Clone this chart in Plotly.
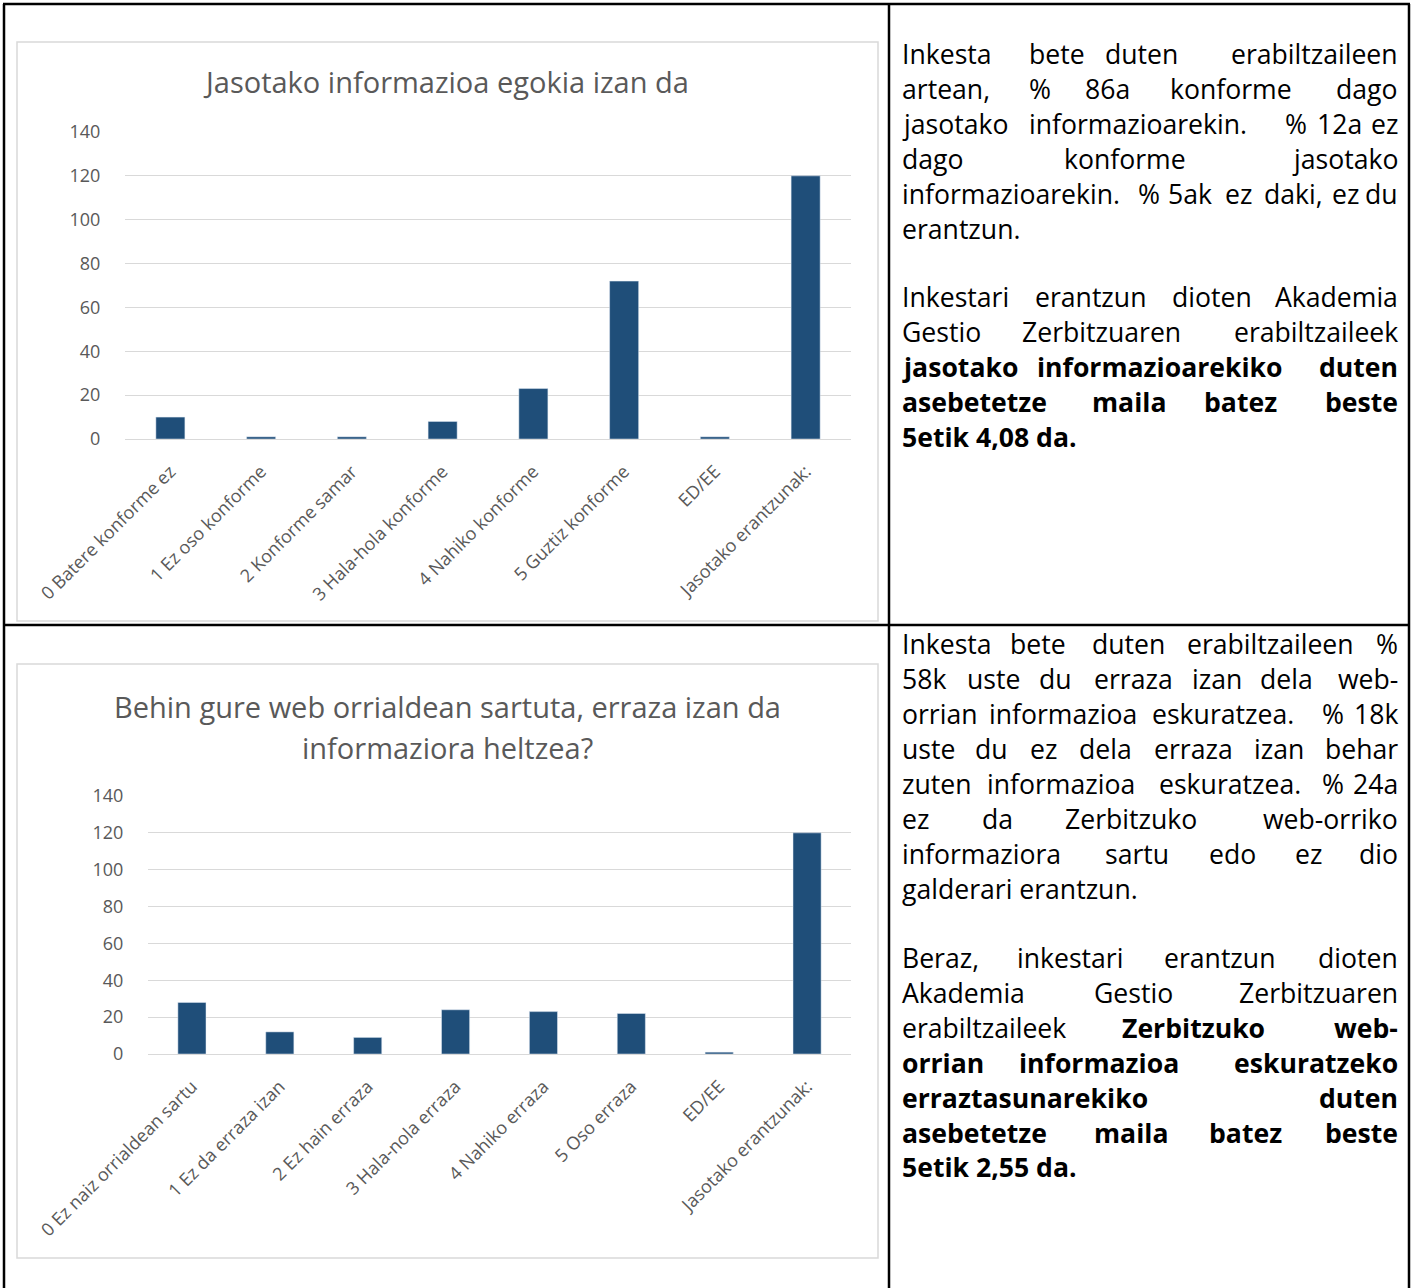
import plotly.graph_objects as go

W, H = 1413, 1288

# ---------------- data ----------------
cats1 = ["0 Batere konforme ez", "1 Ez oso konforme", "2 Konforme samar",
         "3 Hala-hola konforme", "4 Nahiko konforme", "5 Guztiz konforme",
         "ED/EE", "Jasotako erantzunak:"]
vals1 = [10, 1, 1, 8, 23, 72, 1, 120]

cats2 = ["0 Ez naiz orrialdean sartu", "1 Ez da erraza izan", "2 Ez hain erraza",
         "3 Hala-nola erraza", "4 Nahiko erraza", "5 Oso erraza",
         "ED/EE", "Jasotako erantzunak:"]
vals2 = [28, 12, 9, 24, 23, 22, 1, 120]

yticks = [0, 20, 40, 60, 80, 100, 120, 140]

title1 = "Jasotako informazioa egokia izan da"
title2_l1 = "Behin gure web orrialdean sartuta, erraza izan da"
title2_l2 = "informaziora heltzea?"

# ---------------- helpers ----------------
def px(x):
    return x / W

def py(y):
    return 1 - y / H

BAR = "#1F4E79"
GRID = "#D9D9D9"
TXT = "#595959"
CF = "Open Sans"

fig = go.Figure()
fig.add_trace(go.Bar(x=cats1, y=vals1, marker_color=BAR, xaxis="x", yaxis="y"))
fig.add_trace(go.Bar(x=cats2, y=vals2, marker_color=BAR, xaxis="x2", yaxis="y2"))

def xax(d0, d1, anchor):
    return dict(domain=[px(d0), px(d1)], anchor=anchor, tickangle=-45,
                tickfont=dict(family=CF, size=18, color=TXT),
                showgrid=False, showline=False, zeroline=False,
                ticks="outside", ticklen=14, tickcolor="rgba(0,0,0,0)",
                automargin=False, fixedrange=True)

def yax(top, bottom, anchor):
    return dict(domain=[py(bottom), py(top)], anchor=anchor, range=[0, 140],
                tickvals=yticks, tickfont=dict(family=CF, size=18, color=TXT),
                showgrid=True, gridcolor=GRID, gridwidth=1.3,
                zeroline=True, zerolinecolor=GRID, zerolinewidth=1.3,
                showline=False, ticks="outside", ticklen=20,
                tickcolor="rgba(0,0,0,0)", automargin=False, fixedrange=True)

fig.update_layout(
    width=W, height=H, margin=dict(l=0, r=0, t=0, b=0, autoexpand=False),
    paper_bgcolor="white", plot_bgcolor="white", showlegend=False,
    bargap=0.68,
    xaxis=xax(125, 851, "y"), yaxis=yax(132, 439, "x"),
    xaxis2=xax(148, 851, "y2"), yaxis2=yax(796, 1054, "x2"),
)

shapes = []
# chart boxes
for (x0, y0, x1, y1) in [(17, 42, 878, 621), (17, 664, 878, 1258)]:
    shapes.append(dict(type="rect", xref="paper", yref="paper",
                       x0=px(x0), x1=px(x1), y0=py(y1), y1=py(y0),
                       line=dict(color=GRID, width=1.5), fillcolor="rgba(0,0,0,0)",
                       layer="below"))
# table lines
for (x0, y0, x1, y1) in [(3, 4, 1410, 4), (3, 625, 1410, 625),
                         (4, 4, 4, 1288), (889, 4, 889, 1288), (1409, 4, 1409, 1288)]:
    shapes.append(dict(type="line", xref="paper", yref="paper",
                       x0=px(x0), x1=px(x1), y0=py(y0), y1=py(y1),
                       line=dict(color="black", width=2.5)))
fig.update_layout(shapes=shapes)

ann = []
for t, x, y in [(title1, 446, 82), (title2_l1, 447, 706), (title2_l2, 447, 747)]:
    ann.append(dict(text=t, x=px(x), y=py(y), xref="paper", yref="paper",
                    xanchor="center", yanchor="middle", showarrow=False,
                    font=dict(family=CF, size=29, color=TXT)))

# ---------------- right-hand text (justified by word placement) ----------------
L, R = 900, 1400
B = True
# each line: (y_center, [(word, x_left or None = right-aligned, bold)])
lines = [
    (54, [("Inkesta", L, 0), ("bete", 1027, 0), ("duten", 1103, 0), ("erabiltzaileen", None, 0)]),
    (89, [("artean,", L, 0), ("%", 1027, 0), ("86a", 1083, 0), ("konforme", 1168, 0), ("dago", None, 0)]),
    (124, [("jasotako", L, 0), ("informazioarekin.", 1027, 0), ("%", 1283, 0), ("12a", 1315, 0), ("ez", None, 0)]),
    (159, [("dago", L, 0), ("konforme", 1062, 0), ("jasotako", None, 0)]),
    (194, [("informazioarekin.", L, 0), ("%", 1136, 0), ("5ak", 1166, 0), ("ez", 1223, 0), ("daki,", 1262, 0), ("ez", 1330, 0), ("du", None, 0)]),
    (229, [("erantzun.", L, 0)]),
    (297, [("Inkestari", L, 0), ("erantzun", 1033, 0), ("dioten", 1170, 0), ("Akademia", None, 0)]),
    (332, [("Gestio", L, 0), ("Zerbitzuaren", 1020, 0), ("erabiltzaileek", None, 0)]),
    (367, [("jasotako", L, B), ("informazioarekiko", 1035, B), ("duten", None, B)]),
    (402, [("asebetetze", L, B), ("maila", 1090, B), ("batez", 1202, B), ("beste", None, B)]),
    (437, [("5etik 4,08 da.", L, B)]),

    (644, [("Inkesta", L, 0), ("bete", 1008, 0), ("duten", 1090, 0), ("erabiltzaileen", 1185, 0), ("%", None, 0)]),
    (679, [("58k", L, 0), ("uste", 965, 0), ("du", 1037, 0), ("erraza", 1092, 0), ("izan", 1190, 0), ("dela", 1258, 0), ("web-", None, 0)]),
    (714, [("orrian", L, 0), ("informazioa", 987, 0), ("eskuratzea.", 1150, 0), ("%", 1320, 0), ("18k", None, 0)]),
    (749, [("uste", L, 0), ("du", 973, 0), ("ez", 1028, 0), ("dela", 1077, 0), ("erraza", 1152, 0), ("izan", 1252, 0), ("behar", None, 0)]),
    (784, [("zuten", L, 0), ("informazioa", 985, 0), ("eskuratzea.", 1157, 0), ("%", 1320, 0), ("24a", None, 0)]),
    (819, [("ez", L, 0), ("da", 980, 0), ("Zerbitzuko", 1063, 0), ("web-orriko", None, 0)]),
    (854, [("informaziora", L, 0), ("sartu", 1103, 0), ("edo", 1207, 0), ("ez", 1293, 0), ("dio", None, 0)]),
    (889, [("galderari erantzun.", L, 0)]),
    (958, [("Beraz,", L, 0), ("inkestari", 1015, 0), ("erantzun", 1162, 0), ("dioten", None, 0)]),
    (993, [("Akademia", L, 0), ("Gestio", 1092, 0), ("Zerbitzuaren", None, 0)]),
    (1028, [("erabiltzaileek", L, 0), ("Zerbitzuko", 1120, B), ("web-", None, B)]),
    (1063, [("orrian", L, B), ("informazioa", 1017, B), ("eskuratzeko", None, B)]),
    (1098, [("erraztasunarekiko", L, B), ("duten", None, B)]),
    (1133, [("asebetetze", L, B), ("maila", 1092, B), ("batez", 1207, B), ("beste", None, B)]),
    (1167, [("5etik 2,55 da.", L, B)]),
]

for yc, words in lines:
    for w, x, b in words:
        t = f"<b>{w}</b>" if b else w
        right = x is None
        ann.append(dict(text=t, x=px(R if right else x), y=py(yc),
                        xref="paper", yref="paper",
                        xanchor="right" if right else "left", yanchor="middle",
                        showarrow=False,
                        font=dict(family=CF, size=26.6, color="black")))

fig.update_layout(annotations=ann)
fig.write_html("out.html", config={"responsive": False, "displayModeBar": False})

# remove the default page margin so the figure sits at the window's top-left corner
with open("out.html", "r", encoding="utf-8") as f:
    html = f.read()
html = html.replace("<head>", "<head><style>html,body{margin:0;padding:0;overflow:hidden;}</style>", 1)
with open("out.html", "w", encoding="utf-8") as f:
    f.write(html)
